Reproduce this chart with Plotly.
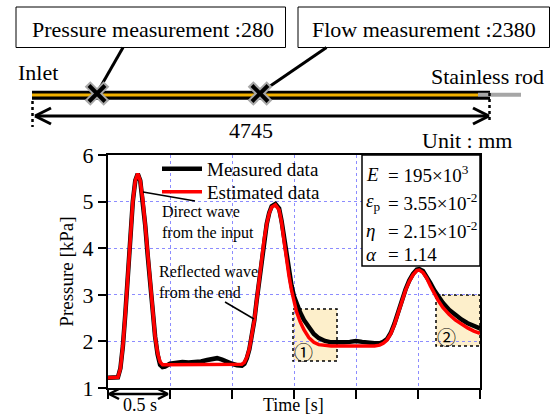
import plotly.graph_objects as go

# ---------------- data ----------------
time_s = [0.00, 0.04, 0.08, 0.10, 0.12, 0.14, 0.16, 0.18, 0.20, 0.22, 0.24, 0.26, 0.28, 0.30,
          0.32, 0.34, 0.36, 0.38, 0.40, 0.42, 0.44, 0.46, 0.50, 0.55, 0.60, 0.65, 0.70, 0.75,
          0.80, 0.85, 0.88, 0.92, 0.96, 1.00, 1.04, 1.08, 1.10, 1.12, 1.14, 1.16, 1.18, 1.20,
          1.22, 1.24, 1.26, 1.28, 1.30, 1.32, 1.35, 1.38, 1.40, 1.42, 1.44, 1.46, 1.48, 1.50,
          1.52, 1.55, 1.58, 1.62, 1.66, 1.70, 1.75, 1.80, 1.85, 1.90, 1.95, 2.00, 2.05, 2.10,
          2.15, 2.19, 2.22, 2.25, 2.28, 2.31, 2.34, 2.37, 2.40, 2.43, 2.46, 2.49, 2.51, 2.54,
          2.57, 2.60, 2.63, 2.66, 2.70, 2.75, 2.80, 2.85, 2.90, 2.95, 3.00]

estimated_kpa = [1.22, 1.22, 1.23, 1.42, 1.90, 2.60, 3.50, 4.35, 5.00, 5.45, 5.60, 5.45, 5.05, 4.50,
                 3.85, 3.20, 2.60, 2.10, 1.75, 1.56, 1.50, 1.50, 1.50, 1.50, 1.50, 1.50, 1.50, 1.50,
                 1.50, 1.50, 1.50, 1.50, 1.50, 1.50, 1.50, 1.51, 1.55, 1.66, 1.84, 2.10, 2.45, 2.90,
                 3.35, 3.80, 4.20, 4.52, 4.75, 4.88, 4.93, 4.82, 4.55, 4.15, 3.75, 3.40, 3.10, 2.85,
                 2.64, 2.42, 2.25, 2.08, 1.98, 1.93, 1.91, 1.90, 1.90, 1.90, 1.90, 1.90, 1.90, 1.90,
                 1.90, 1.92, 1.96, 2.03, 2.16, 2.36, 2.62, 2.88, 3.10, 3.29, 3.43, 3.52, 3.53, 3.48,
                 3.36, 3.19, 3.03, 2.89, 2.73, 2.58, 2.46, 2.37, 2.29, 2.22, 2.17]

measured_kpa = [1.22, 1.22, 1.23, 1.42, 1.90, 2.60, 3.50, 4.35, 5.00, 5.45, 5.60, 5.45, 5.05, 4.50,
                3.85, 3.20, 2.60, 2.10, 1.72, 1.50, 1.45, 1.46, 1.52, 1.55, 1.56, 1.55, 1.55, 1.57,
                1.60, 1.63, 1.64, 1.61, 1.56, 1.52, 1.49, 1.48, 1.52, 1.64, 1.83, 2.10, 2.45, 2.90,
                3.35, 3.80, 4.20, 4.52, 4.76, 4.90, 4.95, 4.85, 4.58, 4.20, 3.82, 3.48, 3.20, 2.97,
                2.80, 2.62, 2.46, 2.29, 2.16, 2.07, 2.01, 1.98, 1.97, 1.98, 1.99, 2.01, 1.99, 1.97,
                1.96, 1.96, 1.99, 2.05, 2.18, 2.38, 2.64, 2.90, 3.12, 3.31, 3.45, 3.54, 3.55, 3.51,
                3.40, 3.25, 3.10, 2.97, 2.83, 2.68, 2.56, 2.47, 2.39, 2.33, 2.28]

x_ticks = [0, 0.5, 1.0, 1.5, 2.0, 2.5, 3.0]
y_ticks = [1, 2, 3, 4, 5, 6]
y_tick_labels = ["1", "2", "3", "4", "5", "6"]

series_names = ["Measured data", "Estimated data"]
param_symbols = ["<i>E</i>", "<i>ε</i><sub>p</sub>", "<i>η</i>", "<i>α</i>"]
param_values = ["= 195×10<sup>3</sup>", "= 3.55×10<sup>-2</sup>", "= 2.15×10<sup>-2</sup>", "= 1.14"]

# ---------------- layout helpers (pixel -> paper) ----------------
W, H = 551, 414
L, R, T, B = 108, 480, 155, 388
FONT = "Liberation Serif"


def px(x):
    return (x - L) / (R - L)


def py(y):
    return (B - y) / (B - T)


fig = go.Figure()
fig.add_trace(go.Scatter(x=time_s, y=measured_kpa, mode="lines", name=series_names[0],
                         line=dict(color="black", width=4.5), legend="legend"))
fig.add_trace(go.Scatter(x=time_s, y=estimated_kpa, mode="lines", name=series_names[1],
                         line=dict(color="#FF0000", width=3.5), legend="legend2"))

shapes = []
annotations = []


def pline(x0, y0, x1, y1, color="black", width=2, dash=None):
    d = dict(type="line", xref="paper", yref="paper", x0=px(x0), y0=py(y0), x1=px(x1), y1=py(y1),
             line=dict(color=color, width=width), layer="above")
    if dash:
        d["line"]["dash"] = dash
    shapes.append(d)


def prect(x0, y0, x1, y1, fill="white", color="black", width=1, dash=None, layer="above"):
    d = dict(type="rect", xref="paper", yref="paper", x0=px(x0), y0=py(y0), x1=px(x1), y1=py(y1),
             fillcolor=fill, line=dict(color=color, width=width), layer=layer)
    if dash:
        d["line"]["dash"] = dash
    shapes.append(d)


def ptext(x, y, text, size=22, xanchor="center", yanchor="middle", align="left", family=FONT):
    annotations.append(dict(xref="paper", yref="paper", x=px(x), y=py(y), text=text, showarrow=False,
                            xanchor=xanchor, yanchor=yanchor, align=align,
                            font=dict(family=family, size=size, color="black")))


# ---- top schematic ----
prect(16, 7, 285.5, 47.5)
prect(298, 7, 549.5, 47.5)
ptext(152.5, 29.5, "Pressure measurement :280")
ptext(424, 29.5, "Flow measurement :2380")
ptext(16, 72.5, "Inlet", xanchor="left")
ptext(546, 76, "Stainless rod", xanchor="right")

# rod
pline(32, 95.3, 490, 95.3, width=9)
pline(32, 95, 478, 95, color="#F2B100", width=3.2)
pline(478, 94.8, 521, 94.8, color="#A6A6A6", width=4)

# leader lines
pline(123, 47.5, 97, 93, width=3)
pline(326.5, 47.5, 260, 93, width=3)

# X markers
for cx, cy in [(97, 93.5), (260, 93.5)]:
    for dx in (-1, 1):
        pline(cx - 9.5, cy - 9.5 * dx, cx + 9.5, cy + 9.5 * dx, color="#A8A8A8", width=8)
    for dx in (-1, 1):
        pline(cx - 8, cy - 8 * dx, cx + 8, cy + 8 * dx, color="black", width=4)

# dimension arrow
pline(36, 116, 488, 116, width=3)
pline(35, 116, 51, 108, width=3)
pline(35, 116, 51, 124, width=3)
pline(489, 116, 473, 108, width=3)
pline(489, 116, 473, 124, width=3)
pline(32.5, 101, 32.5, 127, width=2.5, dash="dot")
pline(489.5, 93, 489.5, 123, width=2.5, dash="dot")
ptext(250.5, 130, "4745")
ptext(466.5, 141, "Unit : mm")

# ---- highlighted regions ① ② ----
prect(293, 309, 337, 361, fill="#FDEFCB", width=1.5, dash="dot", layer="below")
prect(436, 295, 480, 346, fill="#FDEFCB", width=1.5, dash="dot", layer="below")
ptext(303.5, 351.5, "①", size=19, family="Noto Sans CJK JP")
ptext(446.5, 336, "②", size=19, family="Noto Sans CJK JP")

# ---- parameter box ----
prect(362, 155, 480, 266, width=1.5)
rows_y = [174, 202, 230, 254]
for sym, val, yy in zip(param_symbols, param_values, rows_y):
    ptext(364, yy, sym, size=19, xanchor="left")
    ptext(386, yy, val, size=19, xanchor="left")

# ---- in-plot callouts ----
ptext(160, 222, "Direct wave<br>from the input", size=16, xanchor="left")
pline(143, 192, 195, 201, width=1.5)
ptext(157, 282, "Reflected wave<br>from the end", size=16, xanchor="left")
pline(225, 302, 254, 319, width=1.5)

# ---- "0.5 s" arrow ----
pline(110, 394, 167, 394, width=2.5)
pline(109, 394, 119, 389, width=2.5)
pline(109, 394, 119, 399, width=2.5)
pline(168, 394, 158, 389, width=2.5)
pline(168, 394, 158, 399, width=2.5)
ptext(140, 404.5, "0.5 s", size=18)

# x-axis title (no tick labels on this axis)
ptext(293, 404.5, "Time [s]", size=18)

grid = dict(showgrid=True, gridcolor="#8C8CFF", gridwidth=1, griddash="dot")
leg = dict(xanchor="left", yanchor="middle", bgcolor="rgba(0,0,0,0)", borderwidth=0,
           font=dict(family=FONT, size=19), itemwidth=40)

fig.update_layout(
    width=W, height=H,
    margin=dict(l=L, r=W - R, t=T, b=H - B, pad=0, autoexpand=False),
    paper_bgcolor="white", plot_bgcolor="white",
    font=dict(family=FONT, size=20, color="black"),
    showlegend=True,
    legend=dict(x=px(157), y=py(169), **leg),
    legend2=dict(x=px(157), y=py(192), **leg),
    shapes=shapes,
    annotations=annotations,
    xaxis=dict(range=[0, 3], tickvals=x_ticks, showticklabels=False, ticks="outside", ticklen=9,
               tickwidth=2, tickcolor="black", showline=True, linecolor="black", linewidth=2,
               mirror=True, zeroline=False, automargin=False, **grid),
    yaxis=dict(range=[1, 6], tickvals=y_ticks, ticktext=y_tick_labels, ticks="outside", ticklen=8,
               tickwidth=2, tickcolor="black", showline=True, linecolor="black", linewidth=2,
               mirror=True, zeroline=False, automargin=False, tickfont=dict(family=FONT, size=22),
               title=dict(text="Pressure [kPa]", font=dict(family=FONT, size=19), standoff=4), **grid),
)

fig.write_html("out.html", config={"displayModeBar": False},
               post_script="document.body.style.margin='0';")
